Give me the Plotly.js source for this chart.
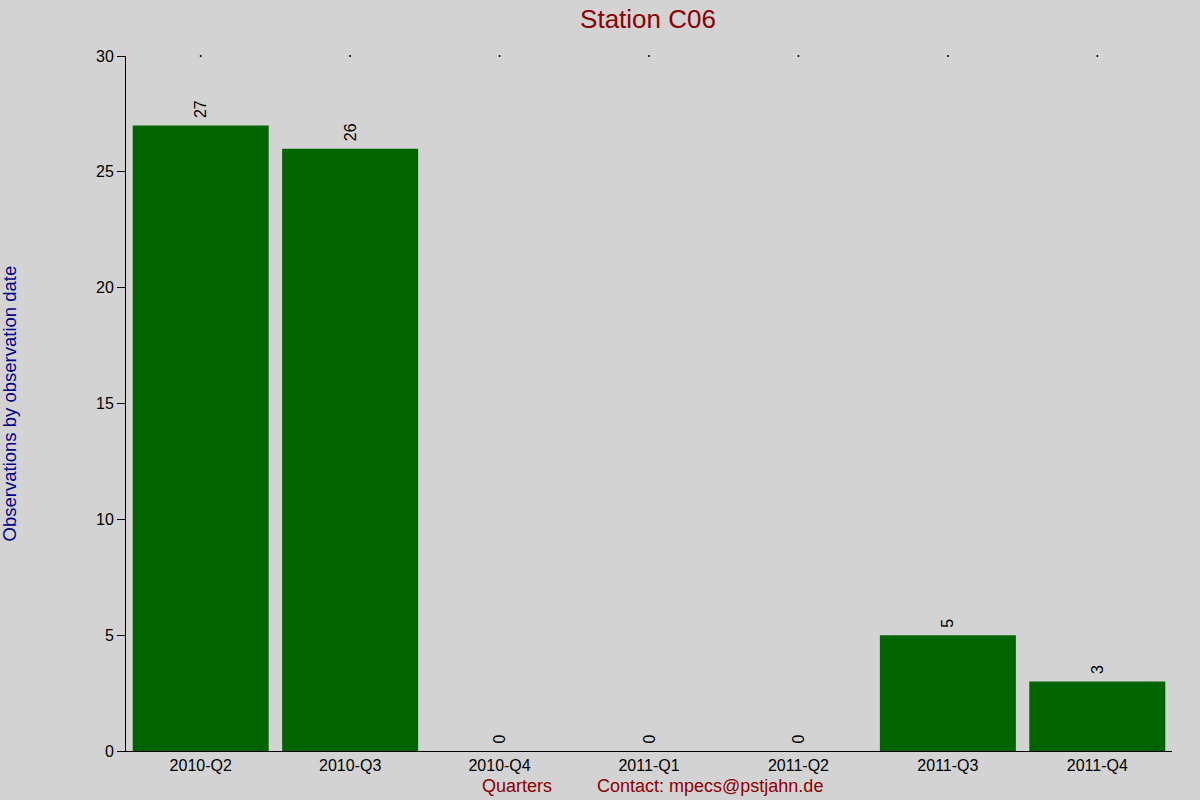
<!DOCTYPE html>
<html>
<head>
<meta charset="utf-8">
<script src="https://cdn.plot.ly/plotly-3.0.1.min.js"></script>
<style>
  html, body { margin: 0; padding: 0; background: #d3d3d3; }
  #chart { width: 1200px; height: 800px; }
</style>
</head>
<body>
<div id="chart"></div>
<script>
// quarters and observation counts for station C06
const quarters = ['2010-Q2', '2010-Q3', '2010-Q4', '2011-Q1', '2011-Q2', '2011-Q3', '2011-Q4'];
const counts = [27, 26, 0, 0, 0, 5, 3];
const yTicks = [0, 5, 10, 15, 20, 25, 30];
const yMax = 30;

const font = 'Liberation Sans, Arial, sans-serif';

const bars = {
  type: 'bar',
  x: quarters,
  y: counts,
  width: 0.91,
  marker: { color: '#006400' },
  // leading space pushes the rotated label a bit off the bar top
  text: counts.map(v => ' ' + v),
  textposition: 'outside',
  textangle: -90,
  textfont: { family: font, size: 16, color: '#000' },
  cliponaxis: false,
  hoverinfo: 'x+y'
};

// little dots along the top of the plot, one per quarter
const topDots = {
  type: 'scatter',
  mode: 'markers',
  x: quarters,
  y: quarters.map(() => yMax),
  marker: { color: '#000', size: 2 },
  cliponaxis: false,
  hoverinfo: 'skip'
};

const layout = {
  width: 1200,
  height: 800,
  paper_bgcolor: '#d3d3d3',
  plot_bgcolor: '#d3d3d3',
  showlegend: false,
  margin: { l: 126, r: 28, t: 56, b: 49 },
  font: { family: font, size: 16, color: '#000' },
  title: {
    text: 'Station C06',
    font: { family: font, size: 26, color: '#8b0000' },
    x: 0.54, xanchor: 'center',
    y: 0.977, yanchor: 'middle'
  },
  xaxis: {
    type: 'category',
    range: [-0.5, quarters.length - 0.5],
    showline: true,
    linecolor: '#000',
    linewidth: 1,
    ticks: '',
    showgrid: false,
    zeroline: false,
    tickfont: { family: font, size: 16, color: '#000' }
  },
  yaxis: {
    range: [0, yMax],
    tickvals: yTicks,
    showline: true,
    linecolor: '#000',
    linewidth: 1,
    ticks: 'outside',
    ticklen: 8,
    tickcolor: '#000',
    showgrid: false,
    zeroline: false,
    tickfont: { family: font, size: 16, color: '#000' }
  },
  annotations: [
    {
      text: 'Observations by observation date',
      xref: 'paper', yref: 'paper',
      x: -0.111, y: 0.5,
      xanchor: 'center', yanchor: 'middle',
      textangle: -90,
      showarrow: false,
      font: { family: font, size: 18.5, color: '#00008b' }
    },
    {
      text: 'Quarters',
      xref: 'paper', yref: 'paper',
      x: 0.374, y: -0.05,
      xanchor: 'center', yanchor: 'middle',
      showarrow: false,
      font: { family: font, size: 18, color: '#8b0000' }
    },
    {
      text: 'Contact: mpecs@pstjahn.de',
      xref: 'paper', yref: 'paper',
      x: 0.558, y: -0.05,
      xanchor: 'center', yanchor: 'middle',
      showarrow: false,
      font: { family: font, size: 18, color: '#8b0000' }
    }
  ]
};

Plotly.newPlot('chart', [bars, topDots], layout, { displayModeBar: false, staticPlot: true });
</script>
</body>
</html>
